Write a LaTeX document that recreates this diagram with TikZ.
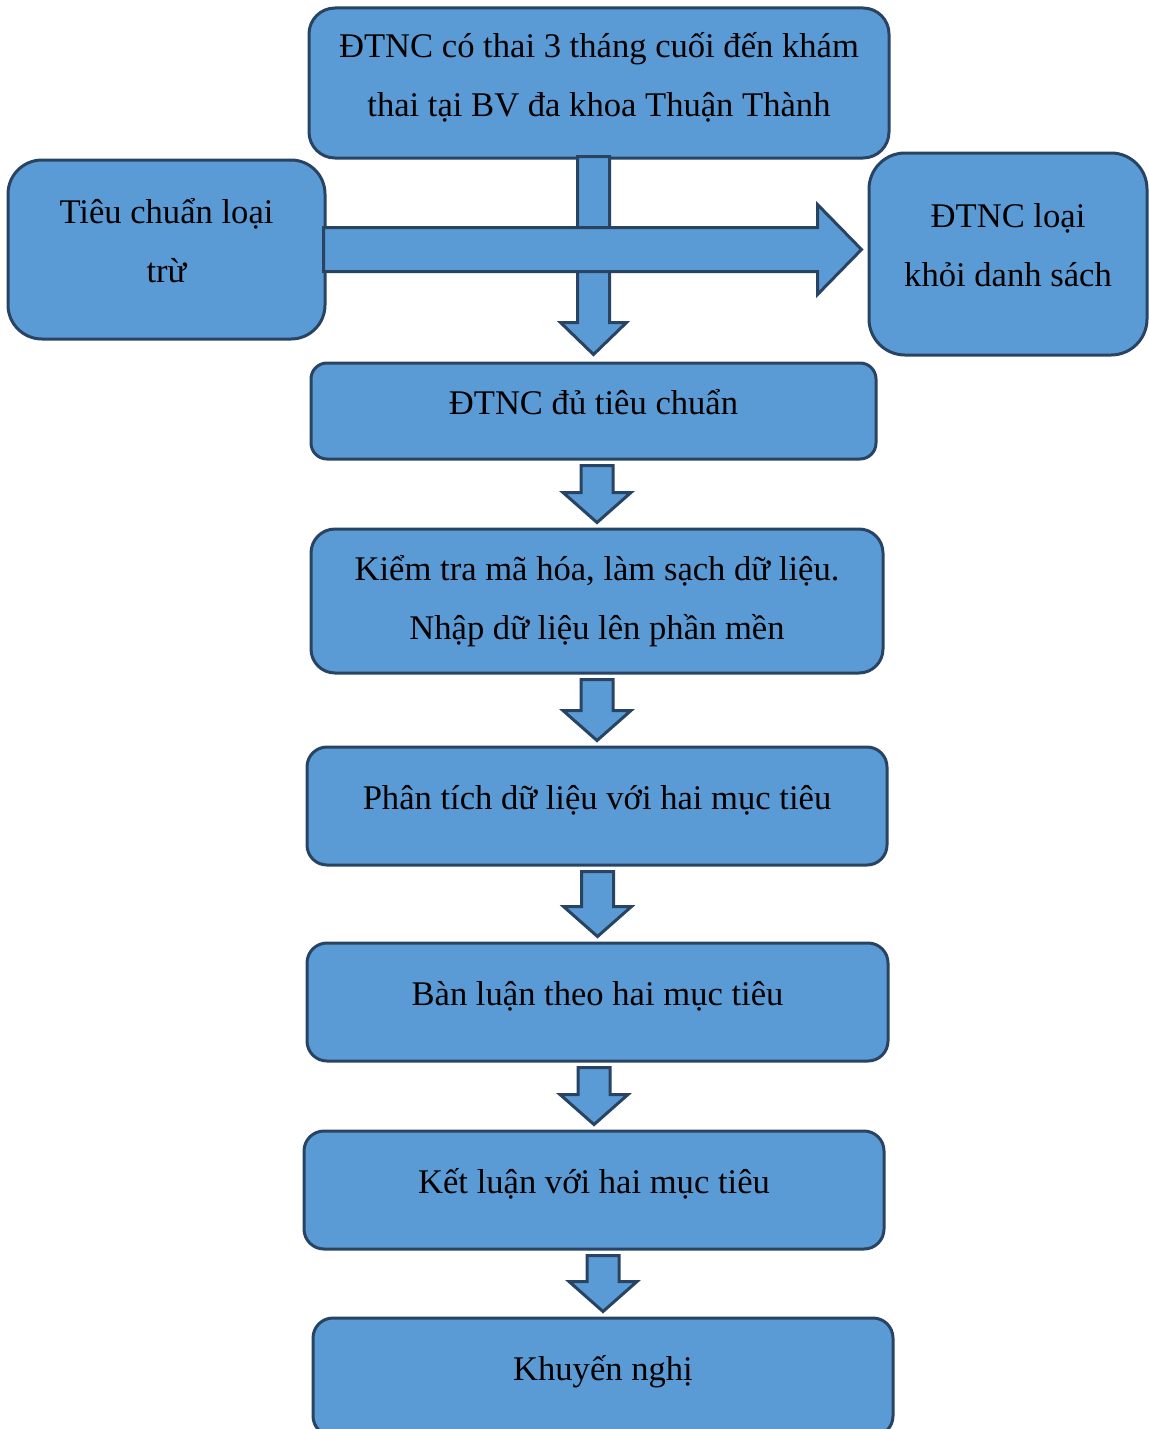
\documentclass[tikz,border=0pt]{standalone}
\usepackage{fontspec}
\setmainfont{Liberation Serif}
\usetikzlibrary{calc}
\definecolor{boxblue}{RGB}{91,155,213}
\definecolor{boxline}{RGB}{40,68,98}

% extra depth on the last line, so the text sits a little high in its box
\newcommand{\lift}{\rule[-9pt]{0pt}{0pt}}

% block arrow from the bottom of one box to the top of the next
\newcommand{\downflow}[2]{%
  \draw[flow] let \p1=(#1.south), \p2=(#2.north) in
    (\x2-8pt,\y1-2.5pt) -- (\x2+8pt,\y1-2.5pt) -- (\x2+8pt,\y2+17.5pt) -- (\x2+17pt,\y2+17.5pt)
    -- (\x2,\y2+2.5pt) -- (\x2-17pt,\y2+17.5pt) -- (\x2-8pt,\y2+17.5pt) -- cycle;}

\begin{document}
\begin{tikzpicture}[x=0.5pt, y=-0.5pt, line width=1.5pt]
    \tikzstyle{box}=[rectangle, rounded corners=10pt, fill=boxblue, draw=boxline, align=center, inner sep=0pt, font=\fontsize{17.3}{29.5}\selectfont]
    \tikzstyle{flow}=[fill=boxblue, draw=boxline, line join=miter]
    \useasboundingbox (0,0) rectangle (1149,1429);

    \node[box, minimum width=290pt, minimum height=75pt, rounded corners=13pt] (visit) at (599,83) {ĐTNC có thai 3 tháng cuối đến khám\\thai tại BV đa khoa Thuận Thành\lift};
    \node[box, minimum width=158.5pt, minimum height=89.5pt, rounded corners=17pt] (excl) at (166.5,249.5) {Tiêu chuẩn loại\\trừ\lift};
    \node[box, minimum width=139pt, minimum height=101pt, rounded corners=18pt] (out) at (1008,254) {ĐTNC loại\\khỏi danh sách\lift};
    \node[box, minimum width=282.5pt, minimum height=48pt, rounded corners=8pt] (ok) at (593.5,411) {ĐTNC đủ tiêu chuẩn\lift};
    \node[box, minimum width=286pt, minimum height=72pt, rounded corners=12pt] (clean) at (597,601) {Kiểm tra mã hóa, làm sạch dữ liệu.\\Nhập dữ liệu lên phần mền};
    \node[box, minimum width=290pt, minimum height=59pt] (anal) at (597,806) {Phân tích dữ liệu với hai mục tiêu\lift};
    \node[box, minimum width=290.5pt, minimum height=59pt] (disc) at (597.5,1002) {Bàn luận theo hai mục tiêu\lift};
    \node[box, minimum width=290pt, minimum height=59pt] (concl) at (594,1190) {Kết luận với hai mục tiêu\lift};
    \node[box, minimum width=290pt, minimum height=59pt] (recom) at (603,1377) {Khuyến nghị\lift};

    % main arrow, crossed by the exclusion arrow
    \draw[flow] let \p1=(visit.south), \p2=(ok.north) in
      (\x2-8pt,\y1+1.5pt) -- (\x2+8pt,\y1+1.5pt) -- (\x2+8pt,\y2+19.5pt) -- (\x2+16.5pt,\y2+19.5pt)
      -- (\x2,\y2+3.5pt) -- (\x2-16.5pt,\y2+19.5pt) -- (\x2-8pt,\y2+19.5pt) -- cycle;
    \draw[flow] let \p1=(excl.east), \p2=(out.west) in
      (\x1-1.5pt,\y1-11pt) -- (\x2-25pt,\y1-11pt) -- (\x2-25pt,\y1-22.5pt) -- (\x2-3pt,\y1)
      -- (\x2-25pt,\y1+22.5pt) -- (\x2-25pt,\y1+11pt) -- (\x1-1.5pt,\y1+11pt) -- cycle;

    \downflow{ok}{clean}
    \downflow{clean}{anal}
    \downflow{anal}{disc}
    \downflow{disc}{concl}
    \downflow{concl}{recom}
  \end{tikzpicture}
\end{document}
